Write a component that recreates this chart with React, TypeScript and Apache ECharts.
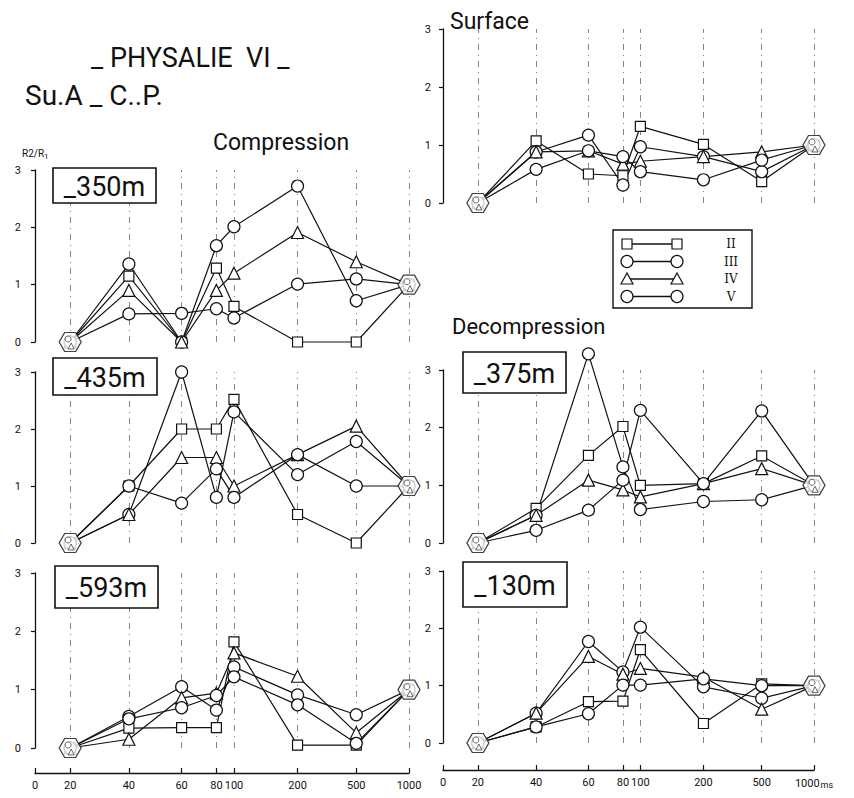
import React, { useEffect, useRef } from "react";
import * as echarts from "echarts";

// time axis (ms) of the original figure, drawn on a distorted scale
const timeTicks = [0, 20, 40, 60, 80, 100, 200, 500, 1000];
const tickScale = [0, 94, 251, 392, 485, 532, 702, 859, 1000];
const times = [20, 40, 60, 80, 100, 200, 500, 1000];
const seriesNames = ["II", "III", "IV", "V"];
const seriesSymbols = ["rect", "circle", "triangle", "circle"];
const refTimes = [20, 1000];
const refValues = [0, 1];

// R2/R1 values, one array per series per depth
const c350_II = [0, 1.15, 0, 1.29, 0.62, 0, 0, 1];
const c350_III = [0, 1.36, 0, 1.68, 2.01, 2.72, 0.72, 1];
const c350_IV = [0, 0.9, 0, 0.9, 1.2, 1.91, 1.4, 1];
const c350_V = [0, 0.49, 0.5, 0.58, 0.42, 1.01, 1.1, 1];

const c435_II = [0, 1.0, 2.0, 2.0, 2.52, 0.5, 0.0, 1];
const c435_III = [0, 0.5, 3.0, 0.8, 2.3, 1.2, 1.78, 1];
const c435_IV = [0, 0.5, 1.5, 1.5, 1.0, 1.55, 2.05, 1];
const c435_V = [0, 1.0, 0.7, 1.3, 0.8, 1.55, 1.0, 1];

const c593_II = [0, 0.34, 0.35, 0.35, 1.82, 0.05, 0.05, 1];
const c593_III = [0, 0.54, 1.05, 0.65, 1.39, 0.91, 0.57, 1];
const c593_IV = [0, 0.15, 0.86, 0.94, 1.63, 1.23, 0.26, 1];
const c593_V = [0, 0.5, 0.69, 0.9, 1.22, 0.74, 0.08, 1];

const surf_II = [0, 1.07, 0.5, 0.47, 1.32, 1.01, 0.37, 1];
const surf_III = [0, 0.88, 1.17, 0.31, 0.97, 0.8, 0.54, 1];
const surf_IV = [0, 0.88, 0.9, 0.67, 0.72, 0.8, 0.88, 1];
const surf_V = [0, 0.58, 0.9, 0.8, 0.54, 0.4, 0.74, 1];

const d375_II = [0, 0.6, 1.52, 2.02, 1.0, 1.03, 1.51, 1];
const d375_III = [0, 0.48, 3.28, 1.32, 0.58, 0.72, 0.75, 1];
const d375_IV = [0, 0.48, 1.09, 0.92, 0.8, 1.03, 1.29, 1];
const d375_V = [0, 0.22, 0.57, 1.09, 2.3, 1.03, 2.29, 1];

const d130_II = [0, 0.28, 0.72, 0.73, 1.63, 0.34, 1.03, 1];
const d130_III = [0, 0.52, 1.77, 1.24, 2.02, 0.98, 0.78, 1];
const d130_IV = [0, 0.52, 1.51, 1.2, 1.3, 1.15, 0.59, 1];
const d130_V = [0, 0.28, 0.51, 1.01, 1.01, 1.12, 1.0, 1];

const panelTitles = ["_350m", "_435m", "_593m", "Surface", "_375m", "_130m"];
const panelData = [
  [c350_II, c350_III, c350_IV, c350_V],
  [c435_II, c435_III, c435_IV, c435_V],
  [c593_II, c593_III, c593_IV, c593_V],
  [surf_II, surf_III, surf_IV, surf_V],
  [d375_II, d375_III, d375_IV, d375_V],
  [d130_II, d130_III, d130_IV, d130_V],
];

// layout (pixels)
const layout = [
  { left: 35, top: 170, width: 374, height: 172, yOff: 4, xAxis: false, box: [53, 168, 103, 35] },
  { left: 35, top: 372, width: 374, height: 171, yOff: 4, xAxis: false, box: [53, 358, 104, 37] },
  { left: 35, top: 573, width: 374, height: 175, yOff: 4, xAxis: true, xOff: 25, box: [55, 566, 103, 42] },
  { left: 443, top: 29, width: 371, height: 174, yOff: 2, xAxis: false, box: null },
  { left: 443, top: 370, width: 371, height: 173, yOff: 2, xAxis: false, box: [463, 352, 103, 41] },
  { left: 443, top: 571, width: 371, height: 172, yOff: 2, xAxis: true, xOff: 27, box: [463, 562, 104, 45], ms: true },
];

const FONT = "Roboto, 'DejaVu Sans', sans-serif";
const INK = "#111";

function pos(t: number): number {
  const i = timeTicks.indexOf(t);
  return tickScale[i];
}

const HEX = "path://M-1,0 L-0.5,-0.87 L0.5,-0.87 L1,0 L0.5,0.87 L-0.5,0.87 Z";

function buildOption() {
  const grid: any[] = [];
  const xAxis: any[] = [];
  const yAxis: any[] = [];
  const series: any[] = [];
  const graphic: any[] = [];

  layout.forEach((L, i) => {
    grid.push({ left: L.left, top: L.top, width: L.width, height: L.height });
    xAxis.push({
      type: "value",
      gridIndex: i,
      min: 0,
      max: 1000,
      show: L.xAxis,
      offset: L.xOff || 0,
      axisLine: { show: true, onZero: false, lineStyle: { color: INK, width: 1.3 } },
      axisTick: { show: true, inside: true, length: 5, customValues: tickScale, lineStyle: { color: INK, width: 1.2 } },
      axisLabel: {
        show: true,
        customValues: tickScale,
        hideOverlap: false,
        color: INK,
        fontSize: 11,
        fontFamily: FONT,
        margin: 7,
        formatter: (v: number) => {
          const k = tickScale.indexOf(v);
          const lab = k >= 0 ? String(timeTicks[k]) : "";
          if (L.ms && lab === "1000") return "1000{u|ms}";
          return lab;
        },
        rich: { u: { fontSize: 9, fontFamily: FONT, color: INK, padding: [3, 0, 0, 1] } },
      },
      splitLine: { show: false },
    });
    yAxis.push({
      type: "value",
      gridIndex: i,
      min: 0,
      max: 3,
      interval: 1,
      offset: L.yOff,
      axisLine: { show: true, lineStyle: { color: INK, width: 1.3 } },
      axisTick: { show: true, length: 4, lineStyle: { color: INK, width: 1.2 } },
      axisLabel: { color: INK, fontSize: 11, fontFamily: FONT, margin: 10 },
      splitLine: { show: false },
    });

    panelData[i].forEach((vals, s) => {
      series.push({
        type: "line",
        name: seriesNames[s],
        xAxisIndex: i,
        yAxisIndex: i,
        data: times.map((t, k) => [pos(t), vals[k]]),
        symbol: seriesSymbols[s],
        symbolSize: seriesSymbols[s] === "rect" ? 10 : 12,
        showAllSymbol: true,
        clip: false,
        lineStyle: { color: INK, width: 1.2 },
        itemStyle: { color: "#fff", borderColor: INK, borderWidth: 1.2 },
        z: 3,
        markLine:
          s === 0
            ? {
                silent: true,
                symbol: ["none", "none"],
                label: { show: false },
                lineStyle: { type: [6, 5, 1, 5], color: "#666", width: 0.8 },
                data: times.map((t) => ({ xAxis: pos(t) })),
                z: 1,
              }
            : undefined,
      });
    });

    const refData = refTimes.map((t, k) => [pos(t), refValues[k]]);
    series.push({
      type: "scatter",
      xAxisIndex: i,
      yAxisIndex: i,
      clip: false,
      data: refData,
      symbol: HEX,
      symbolSize: [22, 19],
      itemStyle: { color: "#fff", borderColor: INK, borderWidth: 1.2 },
      z: 5,
    });
    series.push({
      type: "scatter",
      xAxisIndex: i,
      yAxisIndex: i,
      clip: false,
      data: refData,
      symbol: "circle",
      symbolSize: 6,
      symbolOffset: [-2, -3],
      itemStyle: { color: "#fff", borderColor: "#333", borderWidth: 0.9 },
      z: 6,
    });
    series.push({
      type: "scatter",
      xAxisIndex: i,
      yAxisIndex: i,
      clip: false,
      data: refData,
      symbol: "triangle",
      symbolSize: 6,
      symbolOffset: [1, 4],
      itemStyle: { color: "#fff", borderColor: "#333", borderWidth: 0.9 },
      z: 6,
    });

    if (L.box) {
      const [bx, by, bw, bh] = L.box;
      graphic.push({
        type: "rect",
        shape: { x: bx, y: by, width: bw, height: bh },
        style: { fill: "#fff", stroke: INK, lineWidth: 1.6 },
        z: 20,
      });
      graphic.push({
        type: "text",
        x: bx + bw / 2,
        y: by + bh / 2 + 1,
        style: {
          text: panelTitles[i],
          fontSize: 27,
          fontFamily: FONT,
          fill: INK,
          align: "center",
          verticalAlign: "middle",
        },
        z: 21,
      });
    }
  });

  // titles
  const texts: any[] = [
    { t: "_ PHYSALIE  VI _", x: 91, y: 44, s: 27 },
    { t: "Su.A _ C..P.", x: 25, y: 81, s: 28 },
    { t: "Compression", x: 213, y: 131, s: 23 },
    { t: panelTitles[3], x: 450, y: 10, s: 23 },
    { t: "Decompression", x: 452, y: 315, s: 22 },
  ];
  texts.forEach((o) =>
    graphic.push({
      type: "text",
      x: o.x,
      y: o.y,
      style: { text: o.t, fontSize: o.s, fontFamily: FONT, fill: INK, align: "left", verticalAlign: "top" },
      z: 20,
    })
  );
  graphic.push({
    type: "text",
    x: 22,
    y: 147,
    style: {
      text: "R2/R{s|1}",
      fontSize: 10,
      fontFamily: FONT,
      fill: INK,
      rich: { s: { fontSize: 8, fontFamily: FONT, padding: [5, 0, 0, 0] } },
    },
    z: 20,
  });

  // legend box
  const lx = 613, ly = 230;
  graphic.push({
    type: "rect",
    shape: { x: lx, y: ly, width: 139, height: 78 },
    style: { fill: "#fff", stroke: INK, lineWidth: 1.4 },
    z: 20,
  });
  seriesNames.forEach((n, k) => {
    const yy = 244 + k * 17.5;
    const x1 = 627, x2 = 677;
    graphic.push({ type: "line", shape: { x1, y1: yy, x2, y2: yy }, style: { stroke: INK, lineWidth: 1.4 }, z: 21 });
    [x1, x2].forEach((xx) => {
      const sym = seriesSymbols[k];
      let el: any;
      if (sym === "rect") el = { type: "rect", shape: { x: xx - 5, y: yy - 5, width: 10, height: 10 } };
      else if (sym === "triangle") el = { type: "polygon", shape: { points: [[xx, yy - 6], [xx + 6, yy + 5], [xx - 6, yy + 5]] } };
      else el = { type: "circle", shape: { cx: xx, cy: yy, r: 6 } };
      el.style = { fill: "#fff", stroke: INK, lineWidth: 1.2 };
      el.z = 22;
      graphic.push(el);
    });
    graphic.push({
      type: "text",
      x: 731,
      y: yy,
      style: { text: n, fontSize: 12, fontFamily: "'DejaVu Serif', serif", fill: INK, align: "center", verticalAlign: "middle" },
      z: 22,
    });
  });

  return {
    animation: false,
    backgroundColor: "#fff",
    grid,
    xAxis,
    yAxis,
    series,
    graphic,
  };
}

export default function App() {
  const ref = useRef<HTMLDivElement>(null);
  useEffect(() => {
    if (!ref.current) return;
    const chart = echarts.init(ref.current, null, { renderer: "svg" });
    chart.setOption(buildOption() as any);
    return () => chart.dispose();
  }, []);
  return (
    <div
      ref={ref}
      style={{ position: "absolute", left: 0, top: 0, width: 854, height: 798, background: "#fff" }}
    />
  );
}
